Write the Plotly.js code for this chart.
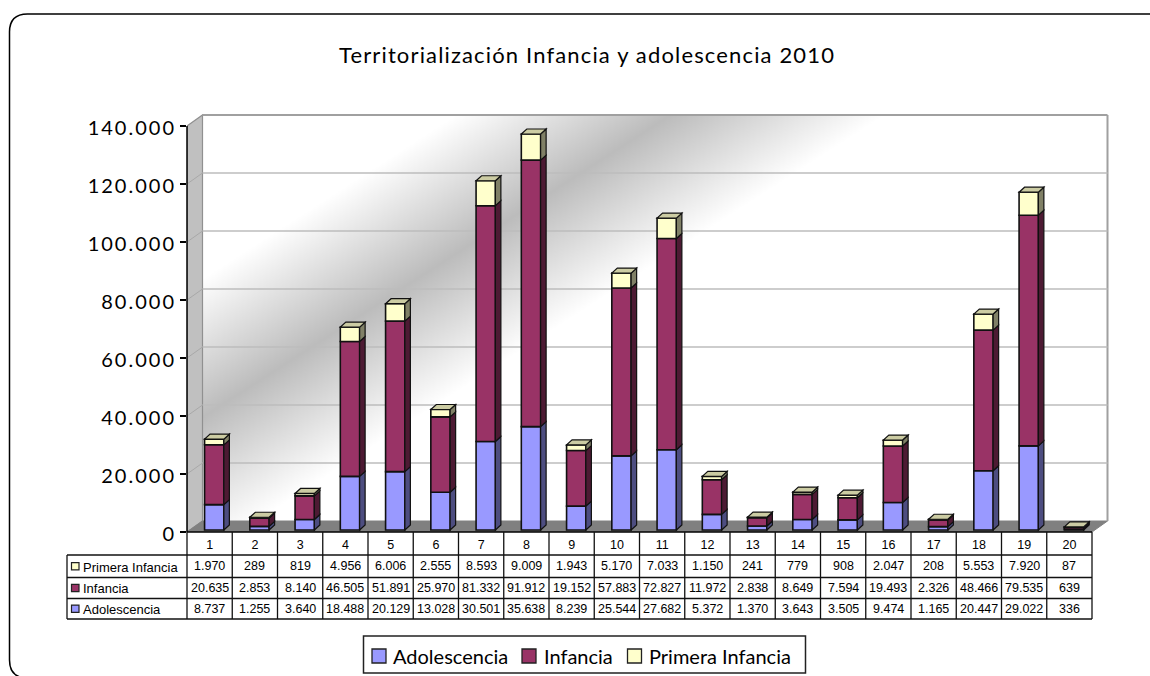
<!DOCTYPE html>
<html>
<head>
<meta charset="utf-8">
<script src="https://cdn.plot.ly/plotly-3.0.1.min.js"></script>
<style>
html,body{margin:0;padding:0;background:#fff}
#chart{width:1150px;height:676px}
#chart .ytick text{letter-spacing:2px}
#chart g.ytick{transform:translateY(1.5px)}
#chart .gtitle{letter-spacing:1.15px}
</style>
</head>
<body>
<div id="chart"></div>
<script>
// ---- data ----
const categories = [1,2,3,4,5,6,7,8,9,10,11,12,13,14,15,16,17,18,19,20];
const adolescencia = [8737,1255,3640,18488,20129,13028,30501,35638,8239,25544,27682,5372,1370,3643,3505,9474,1165,20447,29022,336];
const infancia = [20635,2853,8140,46505,51891,25970,81332,91912,19152,57883,72827,11972,2838,8649,7594,19493,2326,48466,79535,639];
const primera = [1970,289,819,4956,6006,2555,8593,9009,1943,5170,7033,1150,241,779,908,2047,208,5553,7920,87];
const seriesNames = ['Adolescencia','Infancia','Primera Infancia'];
const yTicks = [0,20000,40000,60000,80000,100000,120000,140000];
const titleText = 'Territorialización Infancia y adolescencia 2010';

// ---- styling ----
const frontColors = ['#9999FF','#993366','#FFFFCC'];
const sideColors = ['#4d4d80','#4d1a33','#808066'];
const topColor = '#cccca3';
const CENTURY = 'Lato, "Noto Sans", sans-serif';
const ARIAL = '"Liberation Sans", Arial, sans-serif';

// ---- plot geometry (page pixels) ----
const W = 1150, H = 676;
const L = 187, R = 1112, T = 110, B = 532;
const CELL = 45.25;
const PX_PER_UNIT = 406 / 140000;
const ux = p => p / CELL;
const uy = p => p / PX_PER_UNIT;
const px = p => (p - L) / (R - L);          // page x -> paper
const py = p => (B - p) / (B - T);          // page y -> paper
const xRange = [0.5, 0.5 + ux(R - L)];
const yRange = [0, uy(B - T)];
const wallDx = ux(15.5), wallDy = uy(11);
const barShift = ux(4.6), barW = ux(19.3), depthX = ux(5.5), depthY = uy(5), lift = uy(2);

const stacks = [adolescencia, infancia, primera];
const cum = categories.map(() => lift);
const traces = [];
const shapes = [];

function poly(points, fill, line, width, layer) {
  shapes.push({
    type: 'path', xref: 'x', yref: 'y', layer: layer || 'above',
    path: 'M' + points.map(p => p[0] + ',' + p[1]).join('L') + 'Z',
    fillcolor: fill, line: {color: line, width: width}
  });
}
function pageLine(x0, y0, x1, y1, color, width) {
  shapes.push({type:'line', xref:'paper', yref:'paper', layer:'above',
    x0:px(x0), x1:px(x1), y0:py(y0), y1:py(y1), line:{color:color, width:width}});
}

// walls and floor
const xL = xRange[0], xF = categories.length + 0.5;
poly([[xL,0],[xL+wallDx,wallDy],[xL+wallDx,140000+wallDy],[xL,140000]], '#c0c0c0', '#909090', 1.2, 'below');
poly([[xL,0],[xL+wallDx,wallDy],[xF+wallDx,wallDy],[xF,0]], '#808080', '#808080', 1, 'below');
shapes.push({type:'line',xref:'x',yref:'y',layer:'below',x0:xL+wallDx,x1:xF+wallDx,y0:140000+wallDy,y1:140000+wallDy,line:{color:'#a0a0a0',width:2}});
shapes.push({type:'line',xref:'x',yref:'y',layer:'below',x0:xF+wallDx,x1:xF+wallDx,y0:wallDy,y1:140000+wallDy,line:{color:'#a0a0a0',width:2}});
// gridlines
yTicks.filter(v => v > 0 && v < 140000).forEach(v => {
  shapes.push({type:'line',xref:'x',yref:'y',layer:'below',x0:xL+wallDx,x1:xF+wallDx,y0:v+wallDy,y1:v+wallDy,line:{color:'#bdbdbd',width:1.4}});
  shapes.push({type:'line',xref:'x',yref:'y',layer:'below',x0:xL,x1:xL+wallDx,y0:v,y1:v+wallDy,line:{color:'#a8a8a8',width:1}});
});
// value axis line stops at the top tick
pageLine(L, B, L, B - 406, '#000', 1.5);

// stacked bars with their 3D faces
stacks.forEach((vals, s) => {
  const base = cum.slice();
  traces.push({
    type:'bar', name:seriesNames[s], x:categories.map(c => c + barShift), y:vals, base:base,
    width:barW, marker:{color:frontColors[s], line:{color:'#111',width:1.6}}, hoverinfo:'skip'
  });
  vals.forEach((v, i) => {
    const x1 = categories[i] + barShift + barW/2, x2 = x1 + depthX;
    const y0 = base[i], y1 = base[i] + v;
    poly([[x1,y0],[x2,y0+depthY],[x2,y1+depthY],[x1,y1]], sideColors[s], '#111', 1.2);
    cum[i] = y1;
    if (s === stacks.length - 1) {
      const x0 = x1 - barW;
      poly([[x0,y1],[x1,y1],[x2,y1+depthY],[x0+depthX,y1+depthY]], topColor, '#111', 1.2);
    }
  });
});

// data table
const rowY = [532, 555, 577.5, 598.5, 619];
const tableLeft = 67, tableRight = 1092;
pageLine(L, rowY[0], tableRight, rowY[0], '#000', 1.5);
for (let r = 1; r < rowY.length; r++) pageLine(tableLeft, rowY[r], tableRight, rowY[r], '#111', 1.3);
pageLine(tableLeft, rowY[1], tableLeft, rowY[4], '#111', 1.3);
categories.concat([0]).forEach(c => {
  pageLine(L + c*CELL, rowY[0], L + c*CELL, rowY[4], '#111', 1.3);
});
const annotations = [];
const fmt = v => String(v).replace(/\B(?=(\d{3})+$)/g, '.');
const rows = [[primera,2],[infancia,1],[adolescencia,0]];
rows.forEach((row, r) => {
  const mid = (rowY[r+1] + rowY[r+2]) / 2;
  annotations.push({xref:'paper',yref:'paper',x:px(81),y:py(mid+0.8),xanchor:'left',yanchor:'middle',showarrow:false,
    text:seriesNames[row[1]],font:{family:ARIAL,size:13,color:'#000'}});
  shapes.push({type:'rect',xref:'paper',yref:'paper',layer:'above',x0:px(71.5),x1:px(79),y0:py(mid-3.7),y1:py(mid+3.7),
    fillcolor:frontColors[row[1]],line:{color:'#222',width:1.2}});
  row[0].forEach((v, i) => {
    annotations.push({xref:'x',yref:'paper',x:categories[i],y:py(mid),xanchor:'center',yanchor:'middle',showarrow:false,
      text:fmt(v),font:{family:ARIAL,size:12.5,color:'#000'}});
  });
});

// legend box under the table
shapes.push({type:'rect',xref:'paper',yref:'paper',layer:'above',x0:px(363.5),x1:px(805.5),y0:py(636),y1:py(673),
  fillcolor:'#fff',line:{color:'#222',width:1.5}});
const legendSwatchX = [372, 522, 627.5], legendTextX = [391, 542, 647];
seriesNames.forEach((name, s) => {
  shapes.push({type:'rect',xref:'paper',yref:'paper',layer:'above',x0:px(legendSwatchX[s]),x1:px(legendSwatchX[s]+14),y0:py(649),y1:py(663),
    fillcolor:frontColors[s],line:{color:'#222',width:1.3}});
  annotations.push({xref:'paper',yref:'paper',x:px(legendTextX[s]),y:py(656),xanchor:'left',yanchor:'middle',showarrow:false,
    text:name,font:{family:CENTURY,size:20,color:'#000'}});
});

// outer rounded frame, cut by the window on the right and bottom
const fr = {l:9.5,t:14,r:1166,b:678,rad:18};
shapes.push({type:'path',xref:'paper',yref:'paper',layer:'below',line:{color:'#000',width:1.5},fillcolor:'rgba(0,0,0,0)',
  path:[
    'M',px(fr.l+fr.rad),py(fr.t),'L',px(fr.r-fr.rad),py(fr.t),
    'Q',px(fr.r),py(fr.t),px(fr.r),py(fr.t+fr.rad),
    'L',px(fr.r),py(fr.b-fr.rad),'Q',px(fr.r),py(fr.b),px(fr.r-fr.rad),py(fr.b),
    'L',px(fr.l+fr.rad),py(fr.b),'Q',px(fr.l),py(fr.b),px(fr.l),py(fr.b-fr.rad),
    'L',px(fr.l),py(fr.t+fr.rad),'Q',px(fr.l),py(fr.t),px(fr.l+fr.rad),py(fr.t),'Z'
  ].join(' ')});

// diagonal shading of the back wall
const wallX0 = L + 15.5, wallY0 = B - 406 - 11, wallW = 905, wallH = 406;
const cv = document.createElement('canvas');
cv.width = wallW; cv.height = wallH;
const g = cv.getContext('2d');
const grad = g.createLinearGradient(186-wallX0, 290-wallY0, 312-wallX0, 485-wallY0);
grad.addColorStop(0,'#ffffff'); grad.addColorStop(0.5,'#bcbcbc'); grad.addColorStop(1,'#ffffff');
g.fillStyle = grad; g.fillRect(0,0,wallW,wallH);

const layout = {
  width:W, height:H, autosize:false,
  paper_bgcolor:'#fff', plot_bgcolor:'rgba(0,0,0,0)',
  margin:{l:L, r:W-R, t:T, b:H-B, pad:0},
  barmode:'overlay',
  separators:',.',
  showlegend:false,
  hovermode:false,
  title:{text:titleText, font:{family:CENTURY,size:22,color:'#000'}, x:587/W, xanchor:'center', y:1-55/H, yanchor:'middle'},
  xaxis:{range:xRange, tickvals:categories, ticktext:categories.map(String), ticks:'', showgrid:false, zeroline:false, showline:false,
    tickfont:{family:ARIAL,size:12.5,color:'#000'}, fixedrange:true, tickangle:0, ticklabelstandoff:3},
  yaxis:{range:yRange, tickvals:yTicks, tickformat:',d', ticks:'outside', ticklen:6, tickwidth:1.5, tickcolor:'#000',
    showline:false, showgrid:false, zeroline:false,
    tickfont:{family:CENTURY,size:20,color:'#000'}, fixedrange:true},
  images:[{source:cv.toDataURL('image/png'), xref:'paper', yref:'paper', x:px(wallX0), y:py(wallY0), sizex:wallW/(R-L), sizey:wallH/(B-T),
    xanchor:'left', yanchor:'top', sizing:'stretch', layer:'below'}],
  shapes:shapes, annotations:annotations
};
Plotly.newPlot('chart', traces, layout, {staticPlot:true, displayModeBar:false});
</script>
</body>
</html>
